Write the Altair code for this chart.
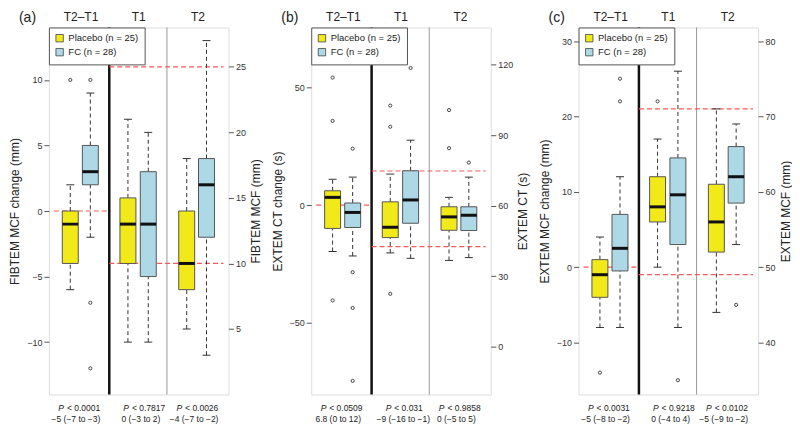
import altair as alt
import pandas as pd

FONT = "Liberation Sans"

SECTIONS = ["T2–T1", "T1", "T2"]
GROUPS = ["Placebo", "FC"]
GROUP_N = [25, 28]

# Box order: T2–T1 Placebo, T2–T1 FC, T1 Placebo, T1 FC, T2 Placebo, T2 FC
# Each box: [lower whisker, Q1, median, Q3, upper whisker]
A_BOXES = [[-6, -4, -1, 0, 2], [-2, 2, 3, 5, 9],
           [4, 10, 13, 15, 21], [4, 9, 13, 17, 20],
           [5, 8, 10, 14, 18], [3, 12, 16, 18, 27]]
A_OUTLIERS = [[10], [10, -7, -12], [], [], [], []]

B_BOXES = [[-19.7, -9.9, 3.3, 6.1, 11], [-21.6, -9.5, -3.1, 0.9, 11.9],
           [39.9, 46.4, 50.8, 61.6, 73.4], [37.6, 52.5, 62.4, 74.8, 87.8],
           [36.7, 49.5, 55.2, 59.5, 63.5], [37.9, 49.4, 55.9, 59.5, 72.1]]
B_OUTLIERS = [[54.2, 35.8, -40.5], [24, -28.5, -43.7, -74.7],
              [102.5, 93.5, 22.5], [118.5], [100.6, 84.4], [78.3]]

C_BOXES = [[-8, -4, -1, 1, 4], [-8, -0.5, 2.5, 7, 12],
           [50, 56, 58, 62, 67], [42, 53, 59.6, 64.5, 76],
           [44, 52, 56, 61, 71], [53, 58.5, 62, 66, 69]]
C_OUTLIERS = [[-14], [25, 22], [72], [35], [], [45]]

# reference lines: change axis value, absolute axis values
A_REF_DIFF, A_REF_ABS = [0], [25, 10]
B_REF_DIFF, B_REF_ABS = [0], [74.7, 42.6]
C_REF_DIFF, C_REF_ABS = [0], [71, 49]

A_P = ["0.0001", "0.7817", "0.0026"]
A_EST = ["−5 (−7 to −3)", "0 (−3 to 2)", "−4 (−7 to −2)"]
B_P = ["0.0509", "0.031", "0.9858"]
B_EST = ["6.8 (0 to 12)", "−9 (−16 to −1)", "0 (−5 to 5)"]
C_P = ["0.0031", "0.9218", "0.0102"]
C_EST = ["−5 (−8 to −2)", "0 (−4 to 4)", "−5 (−9 to −2)"]

A_TITLES = ["FIBTEM MCF change (mm)", "FIBTEM MCF (mm)"]
B_TITLES = ["EXTEM CT change (s)", "EXTEM CT (s)"]
C_TITLES = ["EXTEM MCF change (mm)", "EXTEM MCF (mm)"]

A_TICKS = [[-10, -5, 0, 5, 10], [5, 10, 15, 20, 25]]
B_TICKS = [[-50, 0, 50], [0, 30, 60, 90, 120]]
C_TICKS = [[-10, 0, 10, 20, 30], [40, 50, 60, 70, 80]]

A_DOMAINS = [[-14, 14], [0, 28]]
B_DOMAINS = [[-80.5, 75.5], [-20.3, 135.7]]
C_DOMAINS = [[-16.9, 31.8], [33.1, 81.8]]

# ---- layout constants ----
W, H = 180, 368
POS = [0.29, 0.645, 1.31, 1.67, 2.35, 2.70]
SEP = [0.98, 2.0]
SEC_X = [0.48, 1.5, 2.55]
TXT_X = [0.39, 1.54, 2.48]
XSCALE = alt.Scale(domain=[0, 3], nice=False, zero=False)
COLOR = alt.Scale(domain=GROUPS, range=["#f2ea18", "#add8e6"])
LEGEND_EXPR = (f"datum.label == '{GROUPS[0]}' ? '{GROUPS[0]} (n = {GROUP_N[0]})' : "
               f"'{GROUPS[1]} (n = {GROUP_N[1]})'")
TXT_SIZE = 8.5
RED = "#f45a5a"


def box_frames(boxes, outliers):
    rows, outs = [], []
    for i, b in enumerate(boxes):
        sec = SECTIONS[i // 2]
        grp = GROUPS[i % 2]
        kind = "diff" if i < 2 else "abs"
        rows.append(dict(sec=sec, group=grp, kind=kind, pos=POS[i],
                         lo=b[0], q1=b[1], med=b[2], q3=b[3], hi=b[4]))
        for v in outliers[i]:
            outs.append(dict(sec=sec, group=grp, kind=kind, pos=POS[i], value=v))
    return pd.DataFrame(rows), pd.DataFrame(outs, columns=["sec", "group", "kind", "pos", "value"])


def axis_spec(orient, ticks, title):
    kw = dict(orient=orient, values=ticks, title=title, tickSize=5, labelFontSize=9,
              titleFontSize=12, domain=False, grid=False, labelPadding=2, titlePadding=5,
              tickColor="#555", labelColor="#333", titleColor="#222",
              titleFontWeight="normal", labelFont=FONT, titleFont=FONT)
    if orient == "right":
        kw.update(titleAngle=270, titleBaseline="top")
    return alt.Axis(**kw)


def stat_layers(bdf, odf, ydom, axis, legend, refs, x0, x1):
    ys = alt.Scale(domain=ydom, nice=False, zero=False)
    x = alt.X("pos:Q", scale=XSCALE, axis=None)

    def Y(f, ax=None):
        return alt.Y(f, type="quantitative", scale=ys, axis=ax)

    ref_df = pd.DataFrame({"y": refs, "x0": [x0] * len(refs), "x1": [x1] * len(refs)})
    ref = alt.Chart(ref_df).mark_rule(color=RED, strokeDash=[5, 3], strokeWidth=1.2).encode(
        x=alt.X("x0:Q", scale=XSCALE, axis=None), x2="x1:Q", y=Y("y"))
    w_up = alt.Chart(bdf).mark_rule(color="#333", strokeDash=[4, 3], strokeWidth=1).encode(
        x=x, y=Y("q3"), y2="hi:Q")
    w_lo = alt.Chart(bdf).mark_rule(color="#333", strokeDash=[4, 3], strokeWidth=1).encode(
        x=x, y=Y("lo"), y2="q1:Q")
    caps = alt.Chart(bdf).transform_fold(["lo", "hi"], as_=["k", "v"]).mark_tick(
        orient="horizontal", size=8, thickness=1, color="#333", opacity=1).encode(x=x, y=Y("v"))
    box = alt.Chart(bdf).mark_bar(size=16, orient="vertical", stroke="#555", strokeWidth=1,
                                  opacity=1).encode(
        x=x, y=Y("q1", axis), y2="q3:Q",
        color=alt.Color("group:N", scale=COLOR, legend=legend))
    med = alt.Chart(bdf).mark_tick(orient="horizontal", size=16, thickness=3, color="#111",
                                   opacity=1).encode(x=x, y=Y("med"))
    layers = [ref, w_up, w_lo, caps, box, med]
    if len(odf):
        pts = alt.Chart(odf).mark_point(shape="circle", size=10, filled=False, color="#444",
                                         strokeWidth=1, opacity=1).encode(x=x, y=Y("value"))
        layers.append(pts)
    return layers


def make_panel(letter, boxes, outliers, domains, ticks, titles, ref_diff, ref_abs, ptxt, est):
    bdf, odf = box_frames(boxes, outliers)
    legend = alt.Legend(orient="top-left", offset=0, title=None, labelExpr=LEGEND_EXPR,
                        symbolType="square", symbolSize=55, symbolStrokeColor="#444",
                        symbolStrokeWidth=0.8, fillColor="white", strokeColor="#555",
                        padding=6, labelFontSize=9.5, labelFont=FONT, rowPadding=2,
                        labelColor="#222", symbolOpacity=1)
    diff_layers = stat_layers(bdf[bdf.kind == "diff"], odf[odf.kind == "diff"], domains[0],
                              axis_spec("left", ticks[0], titles[0]), legend,
                              ref_diff, 0, SEP[0])
    abs_layers = stat_layers(bdf[bdf.kind == "abs"], odf[odf.kind == "abs"], domains[1],
                             axis_spec("right", ticks[1], titles[1]), None,
                             ref_abs, SEP[0], 3)

    sep_thick = alt.Chart(pd.DataFrame({"x": [SEP[0]]})).mark_rule(color="#111", strokeWidth=2.5).encode(
        x=alt.X("x:Q", scale=XSCALE, axis=None))
    sep_thin = alt.Chart(pd.DataFrame({"x": [SEP[1]]})).mark_rule(color="#999", strokeWidth=1).encode(
        x=alt.X("x:Q", scale=XSCALE, axis=None))

    sec_df = pd.DataFrame({"sec": SECTIONS, "xc": SEC_X})
    sec_txt = alt.Chart(sec_df).mark_text(fontSize=12, baseline="bottom", dy=-3, font=FONT,
                                          color="#222").encode(
        x=alt.X("xc:Q", scale=XSCALE, axis=None), y=alt.value(0), text="sec:N")

    txt_df = pd.DataFrame({"xc": TXT_X, "p": ptxt, "est": est})
    p_ital = alt.Chart(txt_df).mark_text(text="P", fontStyle="italic", align="right", dx=-12,
                                         fontSize=TXT_SIZE, baseline="middle", font=FONT,
                                         color="#222").encode(
        x=alt.X("xc:Q", scale=XSCALE, axis=None), y=alt.value(H + 13))
    p_rest = alt.Chart(txt_df).transform_calculate(t="'< ' + datum.p").mark_text(
        align="left", dx=-9, fontSize=TXT_SIZE, baseline="middle", font=FONT, color="#222").encode(
        x=alt.X("xc:Q", scale=XSCALE, axis=None), y=alt.value(H + 13), text="t:N")
    est_txt = alt.Chart(txt_df).mark_text(align="center", fontSize=TXT_SIZE, baseline="middle",
                                          font=FONT, color="#222").encode(
        x=alt.X("xc:Q", scale=XSCALE, axis=None), y=alt.value(H + 25), text="est:N")

    let = alt.Chart(pd.DataFrame({"t": [letter]})).mark_text(
        align="left", fontSize=14, baseline="middle", font=FONT, color="#222").encode(
        x=alt.value(-30), y=alt.value(-9), text="t:N")

    return alt.layer(sep_thin, sep_thick, *diff_layers, *abs_layers, sec_txt, p_ital, p_rest,
                     est_txt, let).resolve_scale(y="independent").properties(width=W, height=H)


pa = make_panel("(a)", A_BOXES, A_OUTLIERS, A_DOMAINS, A_TICKS, A_TITLES, A_REF_DIFF, A_REF_ABS, A_P, A_EST)
pb = make_panel("(b)", B_BOXES, B_OUTLIERS, B_DOMAINS, B_TICKS, B_TITLES, B_REF_DIFF, B_REF_ABS, B_P, B_EST)
pc = make_panel("(c)", C_BOXES, C_OUTLIERS, C_DOMAINS, C_TICKS, C_TITLES, C_REF_DIFF, C_REF_ABS, C_P, C_EST)

chart = alt.hconcat(pa, pb, pc, spacing=8).resolve_scale(color="independent").properties(
    padding={"left": 0, "right": 0, "top": 2, "bottom": 0}
).configure_view(stroke="#777", strokeWidth=1.5).configure(font=FONT)

chart.save("out.html", embed_options={"renderer": "svg", "actions": False})
